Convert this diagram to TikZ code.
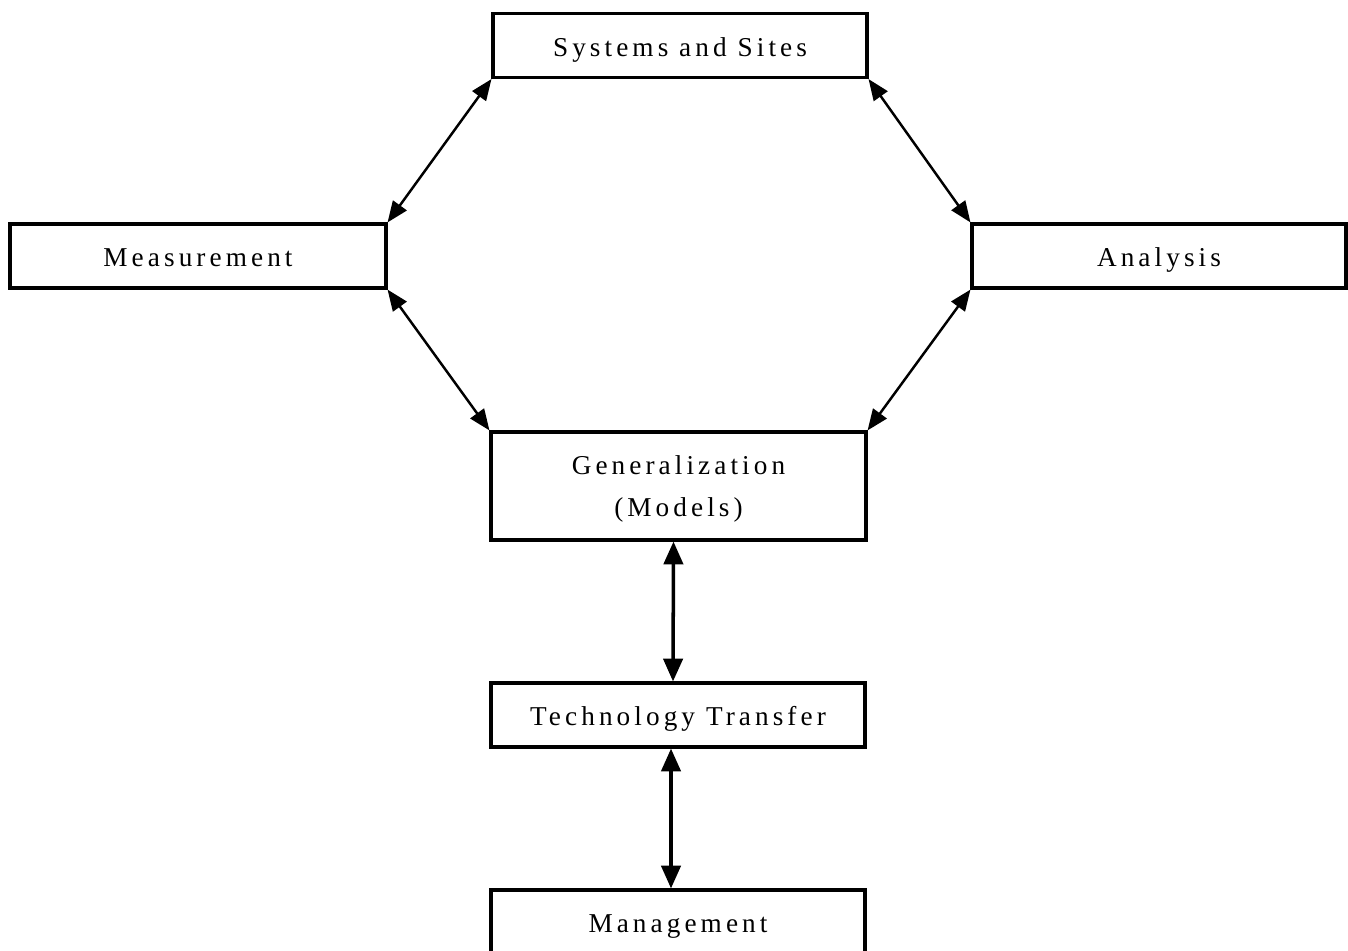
\documentclass[tikz,border=0pt]{standalone}
\usepackage{fontspec}
\setmainfont{Liberation Serif}
\newfontfamily\boxfont[LetterSpace=15]{Liberation Serif}
\usetikzlibrary{arrows.meta}

\begin{document}
\begin{tikzpicture}[x=0.02cm, y=-0.02cm,
    box/.style={draw, line width=1.8pt, minimum width=7.48cm, minimum height=1.28cm,
      inner sep=0pt, align=center, text height=12.5pt, text depth=0pt,
      font=\boxfont\fontsize{15.5}{23.9}\selectfont},
    link/.style={{Triangle[length=12pt,width=9.5pt]}-{Triangle[length=12pt,width=9.5pt]}, line width=1.4pt},
    vlink/.style={{Triangle[length=13pt,width=11pt]}-{Triangle[length=13pt,width=11pt]}, line width=2pt}]
    \useasboundingbox (0,0) rectangle (1348,950);
    \node[box] (sys) at (680,45.5) {Systems and Sites};
    \node[box, minimum width=7.52cm] (meas) at (198,256) {Measurement};
    \node[box] (ana) at (1159,256) {Analysis};
    \node[box, minimum width=7.5cm, minimum height=2.16cm, text height=35.2pt]
      (gen) at (678.5,486) {Generalization\\(Models)};
    \node[box] (tech) at (678,715) {Technology Transfer};
    \node[box] (man) at (678,922) {Management};
    \draw [link] (meas.north east) -- (sys.south west);
    \draw [link] (sys.south east) -- (ana.north west);
    \draw [link] (meas.south east) -- (gen.north west);
    \draw [link] (ana.south west) -- (gen.north east);
    \draw [vlink] ([xshift=-0.1cm]gen.south) -- ([xshift=-0.1cm]tech.north);
    \draw [vlink] ([xshift=-0.14cm]tech.south) -- ([xshift=-0.14cm]man.north);
  \end{tikzpicture}
\end{document}
